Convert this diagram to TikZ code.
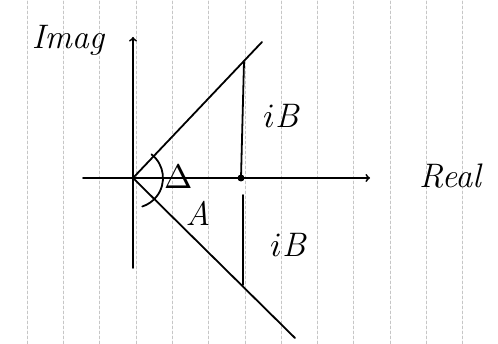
\documentclass[tikz,border=0pt]{standalone}
\usepackage{fontspec}
\usepackage{unicode-math}
\begin{document}
\begin{tikzpicture}[x=1pt,y=1pt,line cap=round,line join=round,line width=1.8pt,
  hand/.style={font=\fontsize{34}{36}\selectfont\itshape},
  ruling/.style={line width=0.5pt,gray!45,dash pattern=on 3pt off 2pt}]
  \useasboundingbox (0,0) rectangle (498,344);
  % ruled paper
  \foreach \i in {0,...,12}
    \draw[ruling] (27+36.3*\i,0) -- (27+36.3*\i,344);
  % axes
  \coordinate (O) at (133,166);
  \draw[->] (83,166) -- (370,166) coordinate (re);
  \draw[->] (133,76) -- (133,307) coordinate (im);
  \node[hand] (imag) at (68,304) {Imag};
  \node[hand] (real) at (450,168) {Real};
  % the two rays
  \coordinate (U) at (262,302);
  \coordinate (L) at (295,6);
  \draw (O) -- (U);
  \draw (O) -- (L);
  \coordinate (P) at (244,282);
  \coordinate (Q) at (243,59);
  \coordinate (M) at (241,166);
  \fill (M) circle (3.5pt);
  \draw (P) -- (M);
  \draw (243,149) -- (Q);
  \node[hand] (ib1) at (281,228) {$i$B};
  \node[hand] (ib2) at (288,99) {$i$B};
  % angle
  \draw (O) ++(52:30) arc[start angle=52,end angle=-72,radius=30];
  \node[hand] (delta) at (179,168) {$\Delta$};
  \node[hand] (a) at (198,131) {A};
\end{tikzpicture}
\end{document}
